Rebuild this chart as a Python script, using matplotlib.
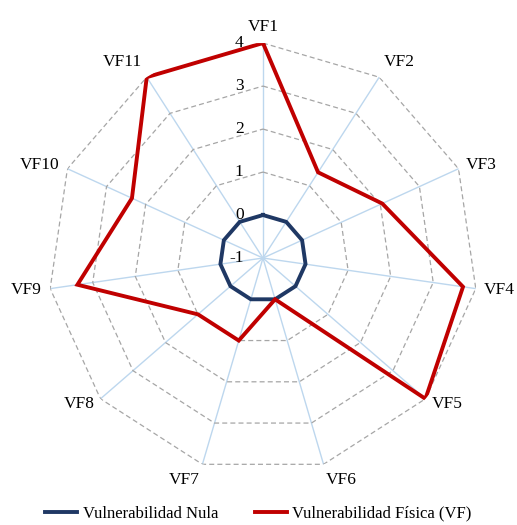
import numpy as np
import matplotlib
matplotlib.use("Agg")
import matplotlib.pyplot as plt

plt.rcParams['font.family'] = ['Liberation Serif', 'DejaVu Serif']

categories = ["VF1", "VF2", "VF3", "VF4", "VF5", "VF6",
              "VF7", "VF8", "VF9", "VF10", "VF11"]
nula = [0, 0, 0, 0, 0, 0, 0, 0, 0, 0, 0]
fisica = [4, 1.37, 2.05, 3.7, 4, 0, 1, 1, 3.36, 2.35, 4]
r_ticks = [-1, 0, 1, 2, 3, 4]

navy = "#1F3864"
red = "#C00000"
grid_gray = "#A6A6A6"
spoke_blue = "#BDD7EE"

n = len(categories)
theta = np.linspace(0, 2 * np.pi, n, endpoint=False)
theta_closed = np.append(theta, theta[0])

fig = plt.figure(figsize=(5.17, 5.25), dpi=100)
ax = fig.add_axes([0.0928, 0.099, 0.8317, 0.819], projection="polar")
ax.set_theta_zero_location("N")
ax.set_theta_direction(-1)
ax.set_ylim(r_ticks[0], r_ticks[-1])
ax.set_axis_off()

# spokes
for t in theta:
    ax.plot([t, t], [r_ticks[0], r_ticks[-1]], color=spoke_blue, lw=1.0, zorder=1)

# dashed polygon rings
for r in r_ticks[1:]:
    ax.plot(theta_closed, [r] * (n + 1), color=grid_gray, lw=0.9,
            ls=(0, (4, 2.5)), zorder=1)

# series
ax.plot(theta_closed, nula + nula[:1], color=navy, lw=2.8,
        solid_joinstyle="miter", zorder=3, label="Vulnerabilidad Nula")
ax.plot(theta_closed, fisica + fisica[:1], color=red, lw=2.8,
        solid_joinstyle="miter", zorder=4, label="Vulnerabilidad Física (VF)")

# value labels along the first spoke
for r in r_ticks:
    ax.annotate(str(r), xy=(0, r), xytext=(-14, 0), textcoords="offset points",
                ha="right", va="center", fontsize=12.5, zorder=5)

# category labels outside the outer ring
for t, name in zip(theta, categories):
    s, c = np.sin(t), np.cos(t)
    ha = "left" if s > 0.05 else ("right" if s < -0.05 else "center")
    va = "bottom" if c > 0.7 else ("top" if c < -0.7 else "center")
    ax.annotate(name, xy=(t, r_ticks[-1]), xytext=(6 * s, 6 * c),
                textcoords="offset points", ha=ha, va=va, fontsize=12.5)

fig.legend(loc="lower center", bbox_to_anchor=(0.5, -0.022), ncol=2,
           frameon=False, fontsize=12, handlelength=1.9, columnspacing=2.2,
           handletextpad=0.35)

fig.savefig("out.png", dpi=100, facecolor="white")
